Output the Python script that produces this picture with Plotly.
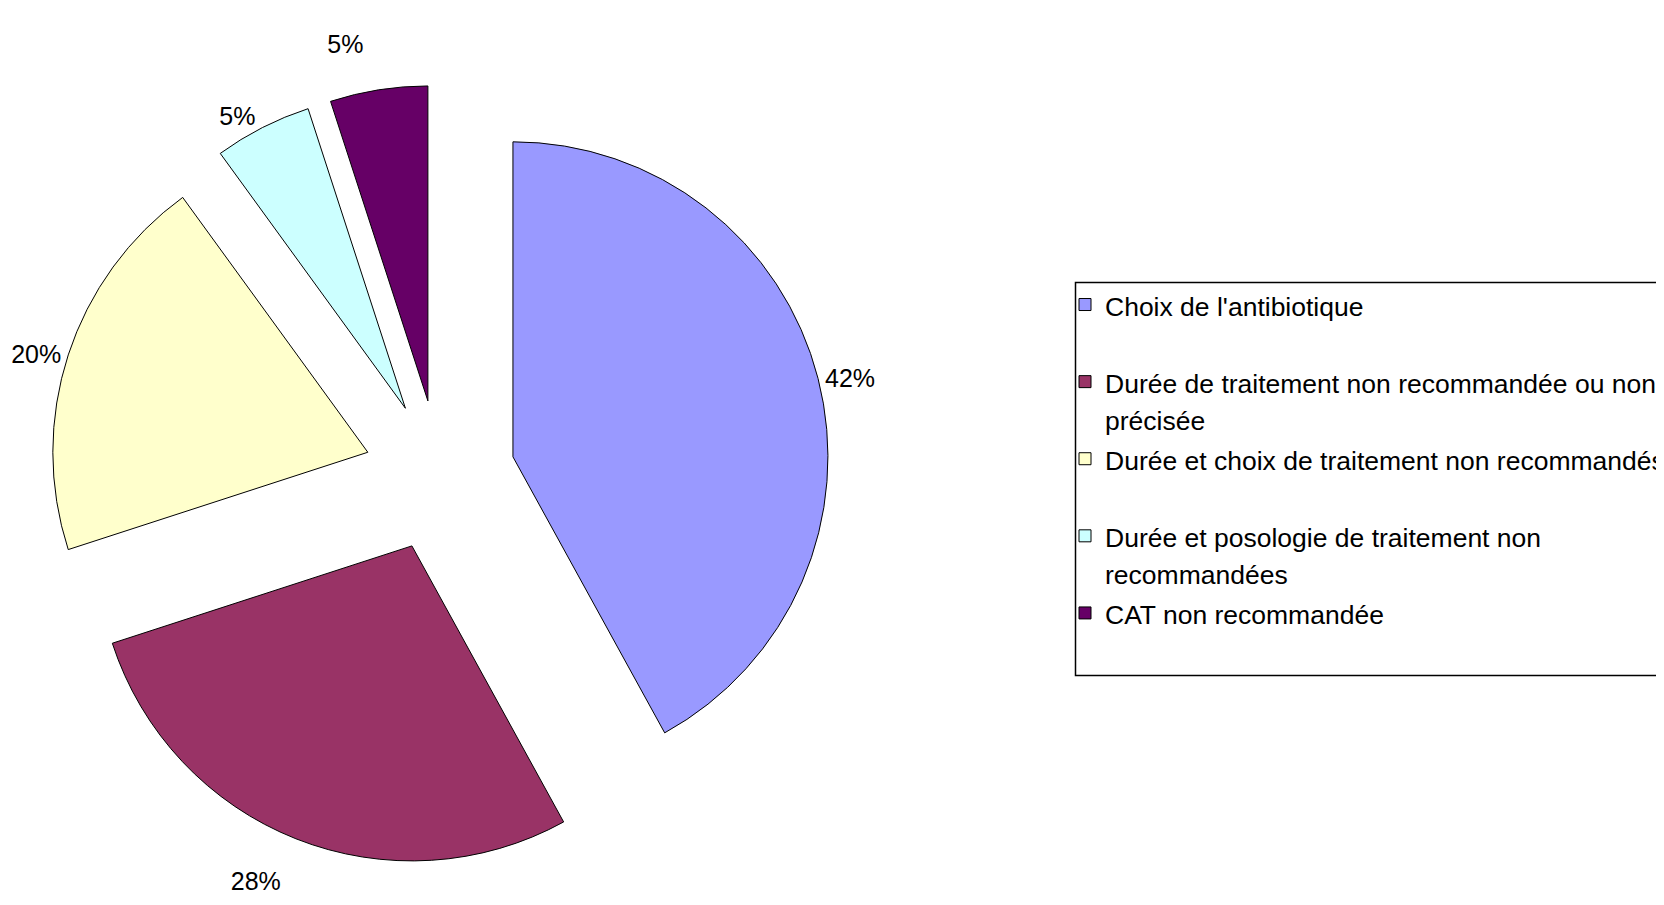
import plotly.graph_objects as go

categories = [
    "Choix de l'antibiotique",
    "Durée de traitement non recommandée ou non<br>précisée",
    "Durée et choix de traitement non recommandés",
    "Durée et posologie de traitement non<br>recommandées",
    "CAT non recommandée",
]
values = [42, 28, 20, 5, 5]
colors = ["#9999FF", "#993366", "#FFFFCC", "#CCFFFF", "#660066"]
pulls = [0.24, 0.24, 0.24, 0.24, 0.24]

FONT = "Liberation Sans, Arial, sans-serif"

# label templates (blank lines emulate the extra label spacing of the original)
label_templates = [
    "%{percent:.0%}",
    " <br>%{percent:.0%}",
    "%{percent:.0%}",
    "%{percent:.0%}",
    "%{percent:.0%}<br> ",
]


def legend_label(s):
    lines = s.split("<br>")
    if len(lines) < 2:
        lines.append(" ")
    return "<br>".join('<span style="font-size:26.5px">%s</span>' % ln for ln in lines)


fig = go.Figure(
    go.Pie(
        labels=[legend_label(c) for c in categories],
        values=values,
        sort=False,
        direction="clockwise",
        rotation=0,
        pull=pulls,
        marker=dict(colors=colors, line=dict(color="black", width=1)),
        texttemplate=label_templates,
        textposition="outside",
        textfont=dict(family=FONT, size=25, color="black"),
        domain=dict(x=[0.0247, 0.4942], y=[0.0517, 0.9149]),
        hoverinfo="label+percent",
    )
)

W, H = 1664, 905
fig.update_layout(
    width=W,
    height=H,
    margin=dict(l=0, r=0, t=0, b=0, autoexpand=False),
    paper_bgcolor="white",
    plot_bgcolor="white",
    showlegend=True,
    legend=dict(
        x=1057 / W,
        xanchor="left",
        y=1 - 271.5 / H,
        yanchor="top",
        valign="top",
        font=dict(family=FONT, size=28.5, color="black"),
        bgcolor="rgba(0,0,0,0)",
        borderwidth=0,
        traceorder="normal",
    ),
    shapes=[
        dict(
            type="rect",
            xref="paper",
            yref="paper",
            x0=1067.5 / W,
            x1=1650 / W,
            y0=1 - 274.5 / H,
            y1=1 - 667.5 / H,
            line=dict(color="black", width=1.5),
            fillcolor="rgba(0,0,0,0)",
        )
    ],
)

fig.write_html("out.html")
